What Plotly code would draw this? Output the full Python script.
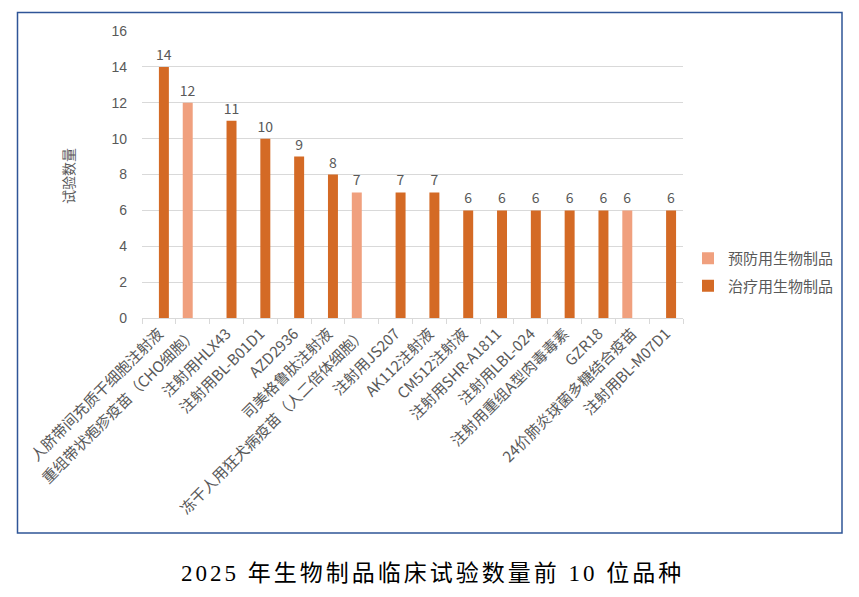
import plotly.graph_objects as go

# --- data
products = ['人脐带间充质干细胞注射液', '重组带状疱疹疫苗（CHO细胞）', '注射用HLX43', '注射用BL-B01D1',
            'AZD2936', '司美格鲁肽注射液', '冻干人用狂犬病疫苗（人二倍体细胞）', '注射用JS207',
            'AK112注射液', 'CM512注射液', '注射用SHR-A1811', '注射用LBL-024',
            '注射用重组A型肉毒毒素', 'GZR18', '24价肺炎球菌多糖结合疫苗', '注射用BL-M07D1']
prevent = [None, 12, None, None, None, None, 7, None, None, None, None, None, None, None, 6, None]
treat = [14, None, 11, 10, 9, 8, None, 7, 7, 6, 6, 6, 6, 6, None, 6]
y_ticks = [0, 2, 4, 6, 8, 10, 12, 14, 16]

# page has an 8px body margin, so the figure is a bit smaller than the window
W, H = 843, 581
L, R, T, B = 134, 675, 23, 310  # plot area in px


def px_x(v):
    return (v - L) / (R - L)


def px_y(v):
    return (B - v) / (B - T)


grey = '#595959'
cjk = 'Noto Sans CJK SC, Microsoft YaHei, sans-serif'

fig = go.Figure()
fig.add_trace(go.Bar(x=products, y=prevent, name='预防用生物制品', legendgroup='p',
                     marker=dict(color='#F0A07E', line=dict(width=0)),
                     texttemplate='%{y}', textposition='outside', constraintext='none',
                     textfont=dict(color=grey, size=14, family=cjk), cliponaxis=False))
fig.add_trace(go.Bar(x=products, y=treat, name='治疗用生物制品', legendgroup='t',
                     marker=dict(color='#D46A25', line=dict(width=0)),
                     texttemplate='%{y}', textposition='outside', constraintext='none',
                     textfont=dict(color=grey, size=14, family=cjk), cliponaxis=False))

fig.update_layout(
    width=W, height=H,
    margin=dict(l=L, r=W - R, t=T, b=H - B, autoexpand=False),
    paper_bgcolor='white', plot_bgcolor='white',
    barmode='group', bargap=0.41, bargroupgap=0,
    font=dict(family=cjk, color=grey, size=14),
    showlegend=True,
    legend=dict(x=px_x(680), y=px_y(234), xanchor='left', yanchor='top',
                font=dict(size=15, color=grey, family=cjk), itemwidth=30,
                traceorder='grouped', tracegroupgap=5, bgcolor='rgba(0,0,0,0)'),
    xaxis=dict(type='category', tickangle=-45, tickfont=dict(size=15, color=grey, family=cjk),
               showgrid=False, showline=True, linecolor='#D9D9D9', linewidth=1,
               ticks='outside', tickson='boundaries', ticklen=5, tickcolor='#D9D9D9'),
    yaxis=dict(range=[0, 16], tickvals=y_ticks, showgrid=True, gridcolor='#D9D9D9',
               zeroline=False, showline=False, ticks='', ticklabelstandoff=14,
               tickfont=dict(size=14, color=grey, family='Liberation Sans, ' + cjk)),
)

# y-axis title
fig.add_annotation(text='试验数量', xref='paper', yref='paper', x=px_x(60), y=px_y(168),
                   xanchor='center', yanchor='middle', textangle=-90, showarrow=False,
                   font=dict(size=14, color=grey, family=cjk))

# caption under the frame
fig.add_annotation(text='<span style="letter-spacing:3px">2025 年生物制品临床试验数量前 10 位品种</span>',
                   xref='paper', yref='paper', x=px_x(424), y=px_y(565),
                   xanchor='center', yanchor='middle', showarrow=False,
                   font=dict(size=23, color='black', family='Liberation Serif, Noto Sans CJK SC'))

# chart frame
fig.add_shape(type='rect', xref='paper', yref='paper',
              x0=px_x(9.5), x1=px_x(834), y0=px_y(525), y1=px_y(4.5),
              line=dict(color='#2F5597', width=1.5), fillcolor='rgba(0,0,0,0)', layer='below')

fig.write_html('out.html')
